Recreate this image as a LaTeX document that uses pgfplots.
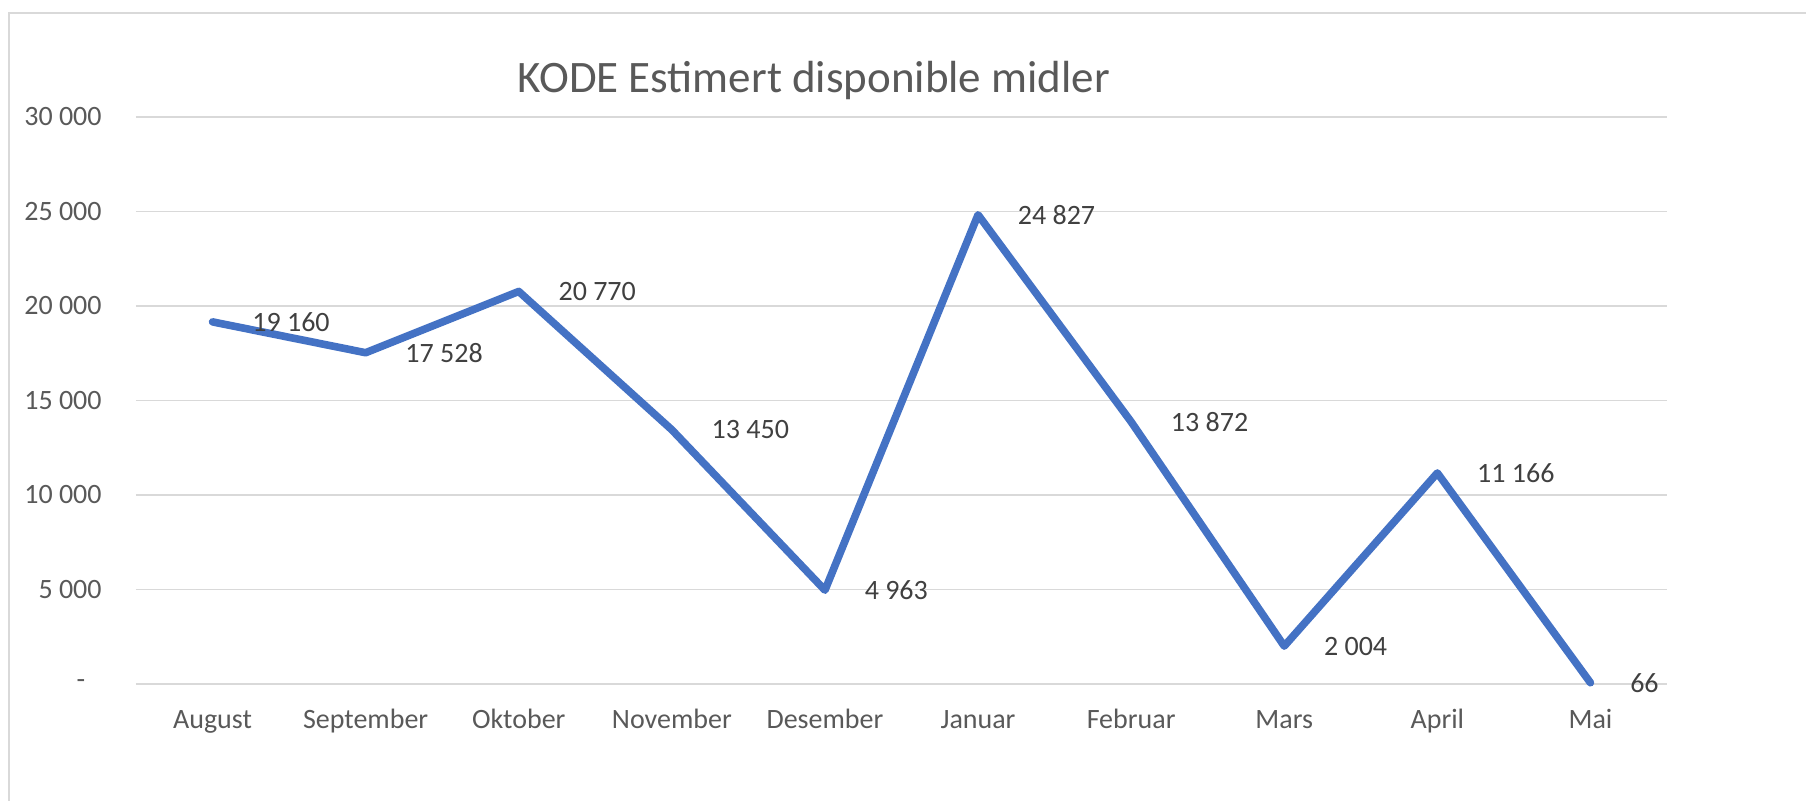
\documentclass[border=0pt]{standalone}
\usepackage{fontspec}
\setmainfont{Carlito}
\usepackage{pgfplots}
\pgfplotsset{compat=1.18}
\definecolor{lineblue}{HTML}{4472C4}
\definecolor{gridgray}{HTML}{D9D9D9}
\definecolor{ticktext}{HTML}{595959}
\definecolor{labeltext}{HTML}{404040}
\newcommand{\zerodash}{\rlap{\hspace{-12pt}-}}
\begin{document}
\begin{tikzpicture}
\useasboundingbox (0,0) rectangle (903pt,400pt);
\draw[gridgray, line width=1pt] (4.5pt,-2pt) -- (4.5pt,393.5pt) -- (905pt,393.5pt);
\node[text=ticktext, font=\fontsize{22.5pt}{27pt}\selectfont] at (407pt,359.5pt) {KODE Estimert disponible midler};
\begin{axis}[
  at={(68pt,58pt)}, anchor=south west,
  scale only axis, width=765.5pt, height=283.5pt,
  xmin=-0.5, xmax=9.5, ymin=0, ymax=30000,
  clip=false,
  scaled y ticks=false,
  axis line style={draw=none},
  major tick length=0pt,
  xtick={0,...,9},
  xticklabels={August,September,Oktober,November,Desember,Januar,Februar,Mars,April,Mai},
  ytick={0,5000,10000,15000,20000,25000,30000},
  yticklabels={\zerodash,5 000,10 000,15 000,20 000,25 000,30 000},
  ymajorgrids,
  major grid style={gridgray, line width=0.8pt},
  tick label style={text=ticktext, font=\fontsize{14pt}{17pt}\selectfont},
  yticklabel style={anchor=east, inner sep=0pt, xshift=-17pt},
  xticklabel style={anchor=base, inner sep=0pt, yshift=-22pt},
  nodes near coords={\pgfmathprintnumber[1000 sep={\ }, assume math mode=true]{\pgfplotspointmeta}},
  every node near coord/.append style={anchor=west, inner sep=0pt, xshift=18pt, text=labeltext, font=\fontsize{14pt}{17pt}\selectfont},
]
\addplot[lineblue, line width=3.8pt, line join=round, line cap=round, mark=none] coordinates {
  (0,19160) (1,17528) (2,20770) (3,13450) (4,4963) (5,24827) (6,13872) (7,2004) (8,11166) (9,66)
};
\end{axis}
\end{tikzpicture}
\end{document}
